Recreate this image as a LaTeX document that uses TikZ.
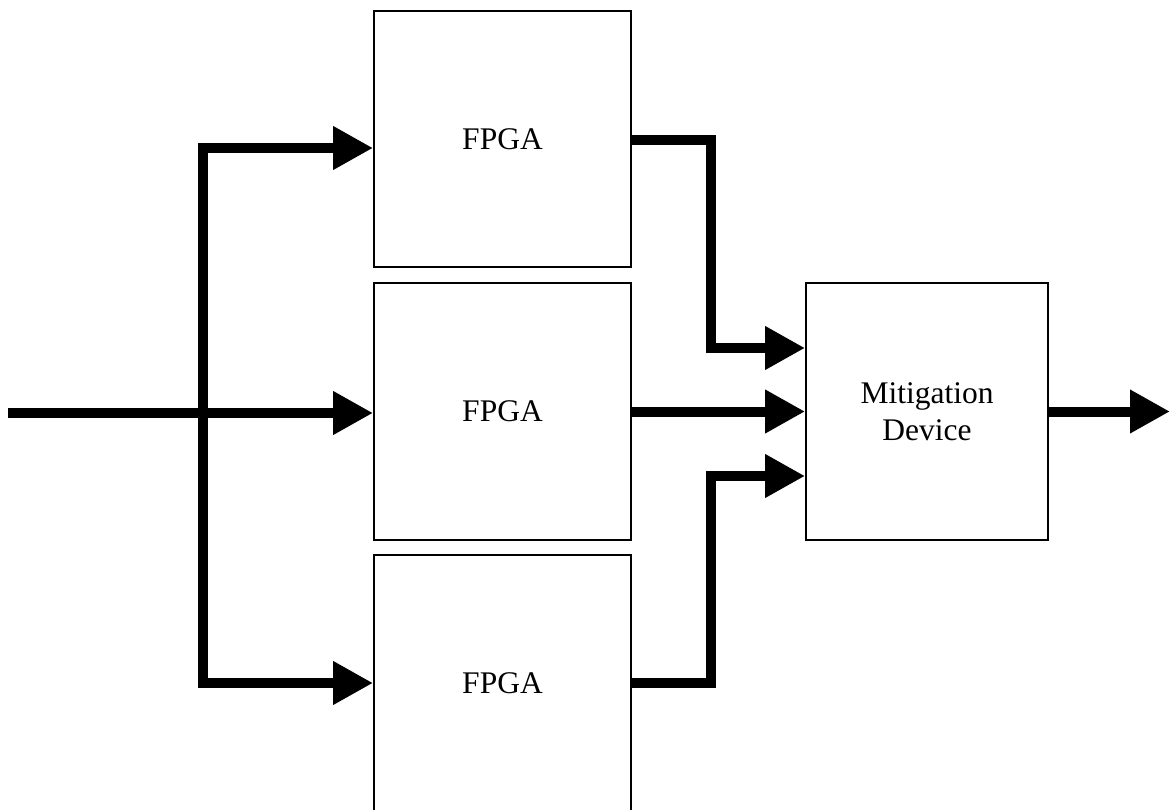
\documentclass[tikz,border=0pt]{standalone}
\usepackage{fontspec}
\setmainfont{Liberation Serif}
\usepackage{tikz}
\usetikzlibrary{arrows.meta}

\begin{document}
\begin{tikzpicture}[x=1pt, y=-1pt,
  blk/.style={draw, line width=1.8pt, inner sep=0pt, align=center,
    font=\fontsize{31.5}{37}\selectfont},
  conn/.style={line width=10pt, -{Triangle[length=40pt, width=41pt]}}]
  \useasboundingbox (0,0) rectangle (1170,810);
  \clip (0,0) rectangle (1170,810);
  % blocchi
  \node[blk, minimum width=257pt, minimum height=256pt] (fpgaA) at (502.5,139) {FPGA};
  \node[blk, minimum width=257pt, minimum height=257pt] (fpgaB) at (502.5,411.5) {FPGA};
  \node[blk, minimum width=257pt, minimum height=257pt] (fpgaC) at (502.5,683.5) {FPGA};
  \node[blk, minimum width=242pt, minimum height=257pt] (mitig) at (927,411.5) {Mitigation\\Device};
  % ingresso
  \coordinate (in) at (8,413);
  \coordinate (split) at (203,413);
  \coordinate (topA) at (203,148);
  \coordinate (botC) at (203,683);
  \draw[conn] (in) -- (in -| fpgaB.west);
  \draw[conn] (split) -- (topA) -- (topA -| fpgaA.west);
  \draw[conn] (split) -- (botC) -- (botC -| fpgaC.west);
  % uscite
  \coordinate (kA) at (711,140);
  \coordinate (kC) at (711,683);
  \draw[conn] (kA -| fpgaA.east) -- (kA) |- ([yshift=63.5pt]mitig.west);
  \draw[conn] (fpgaB.east) -- (mitig.west);
  \draw[conn] (kC -| fpgaC.east) -- (kC) |- ([yshift=-64.5pt]mitig.west);
  \coordinate (out) at (1170,412);
  \draw[conn] (mitig.east) -- (mitig.east -| out);
\end{tikzpicture}
\end{document}
